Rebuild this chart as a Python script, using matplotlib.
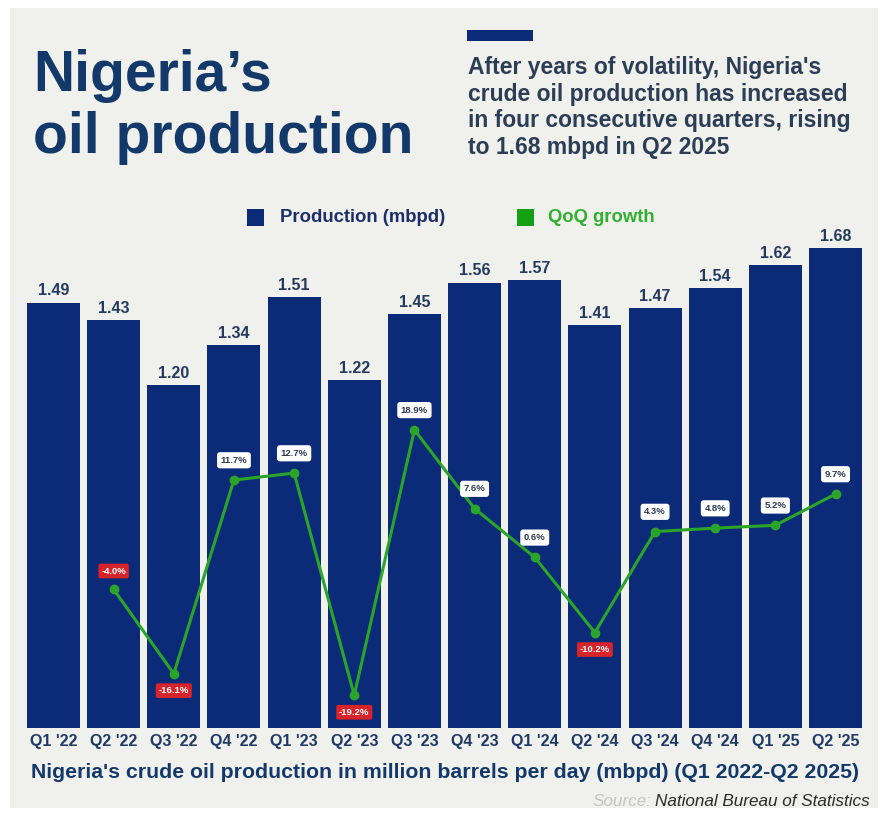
import matplotlib
matplotlib.use("Agg")
import matplotlib.pyplot as plt
from matplotlib.patches import Rectangle
import numpy as np

quarters = ["Q1 '22", "Q2 '22", "Q3 '22", "Q4 '22", "Q1 '23", "Q2 '23", "Q3 '23",
            "Q4 '23", "Q1 '24", "Q2 '24", "Q3 '24", "Q4 '24", "Q1 '25", "Q2 '25"]
production = [1.49, 1.43, 1.20, 1.34, 1.51, 1.22, 1.45, 1.56, 1.57, 1.41, 1.47, 1.54, 1.62, 1.68]
growth = [None, -4.0, -16.1, 11.7, 12.7, -19.2, 18.9, 7.6, 0.6, -10.2, 4.3, 4.8, 5.2, 9.7]

NAVY = "#0b2a78"
TITLE = "#13396a"
GREEN = "#2aa52a"
RED = "#d7232a"
BG = "#f0f0ec"

W, H = 890, 814
fig = plt.figure(figsize=(W / 100, H / 100), dpi=100, facecolor="white")
fig.patches.append(Rectangle((10 / W, 1 - 808 / H), 868 / W, 800 / H,
                             transform=fig.transFigure, facecolor=BG, edgecolor="none", zorder=-10))

def fx(px):
    return px / W

def fy(py):
    return 1 - py / H

sans = ["Liberation Sans", "DejaVu Sans"]

# Title
fig.text(fx(33), fy(153), "Nigeria\u2019s\noil production", fontsize=41, fontweight="bold",
         color=TITLE, family=sans, ha="left", va="baseline", linespacing=1.2)

# Subtitle bar and text
fig.patches.append(Rectangle((fx(467), fy(41)), 66 / W, 11 / H, transform=fig.transFigure,
                             facecolor=NAVY, edgecolor="none"))
fig.text(fx(468), fy(154), "After years of volatility, Nigeria's\ncrude oil production has increased\n"
         "in four consecutive quarters, rising\nto 1.68 mbpd in Q2 2025",
         fontsize=16.5, fontweight="bold", color="#2c3e55", family=sans, ha="left",
         va="baseline", linespacing=1.2)

# Legend
fig.patches.append(Rectangle((fx(247), fy(226)), 17 / W, 17 / H, transform=fig.transFigure,
                             facecolor=NAVY, edgecolor="none"))
fig.text(fx(280), fy(217), "Production (mbpd)", fontsize=13.3, fontweight="bold", color="#1d2f6a",
         family=sans, ha="left", va="center")
fig.patches.append(Rectangle((fx(517), fy(226)), 17 / W, 17 / H, transform=fig.transFigure,
                             facecolor="#14a014", edgecolor="none"))
fig.text(fx(548), fy(217), "QoQ growth", fontsize=13.3, fontweight="bold", color="#30b030",
         family=sans, ha="left", va="center")

# Main axes
ax = fig.add_axes([fx(27), fy(728), fx(862) - fx(27), (728 - 230) / H])
ax.set_facecolor("none")
x = np.arange(len(quarters))
ax.bar(x, production, width=0.88, color=NAVY, zorder=2)
ax.set_xlim(-0.44, len(quarters) - 0.56)
ax.set_ylim(0, (728 - 230) / 285.5)
for xi, v in zip(x, production):
    ax.annotate(f"{v:.2f}", (xi, v), xytext=(0, 3), textcoords="offset points",
                ha="center", va="bottom", fontsize=11.5, fontweight="bold", color="#243a5e",
                family=sans)
ax.set_xticks(x)
ax.set_xticklabels(quarters, fontsize=11.5, fontweight="bold", color="#1f3a66", family=sans)
ax.tick_params(axis="x", length=0, pad=4)
ax.set_yticks([])
for s in ax.spines.values():
    s.set_visible(False)

# Growth axis
ax2 = ax.twinx()
ax2.set_ylim(-23.9, 47.6)
ax2.set_yticks([])
for s in ax2.spines.values():
    s.set_visible(False)
gx = [xi for xi, g in zip(x, growth) if g is not None]
gv = [g for g in growth if g is not None]
ax2.plot(gx, gv, color=GREEN, lw=2.2, marker="o", ms=6, zorder=3)
for xi, g in zip(gx, gv):
    if g < -5:
        ax2.annotate(f"{g:.1f}%", (xi, g), xytext=(0, -9), textcoords="offset points",
                     ha="center", va="top", fontsize=6.8, fontweight="bold", color="white",
                     family=sans,
                     bbox=dict(boxstyle="round,pad=0.3,rounding_size=0.2", fc=RED, ec="none"))
    elif g < 0:
        ax2.annotate(f"{g:.1f}%", (xi, g), xytext=(0, 10), textcoords="offset points",
                     ha="center", va="bottom", fontsize=6.8, fontweight="bold", color="white",
                     family=sans,
                     bbox=dict(boxstyle="round,pad=0.3,rounding_size=0.2", fc=RED, ec="none"))
    else:
        ax2.annotate(f"{g:.1f}%", (xi, g), xytext=(0, 11), textcoords="offset points",
                     ha="center", va="bottom", fontsize=6.8, fontweight="bold", color="#2c3a50",
                     family=sans,
                     bbox=dict(boxstyle="round,pad=0.38,rounding_size=0.3", fc="white", ec="none"))

# Bottom caption
fig.text(fx(445), fy(773), "Nigeria's crude oil production in million barrels per day (mbpd) (Q1 2022-Q2 2025)",
         fontsize=15.3, fontweight="bold", color=TITLE, family=sans, ha="center", va="center")
src = fig.text(fx(870), fy(801), "National Bureau of Statistics", fontsize=12.3, style="italic",
               color="#2a2a2a", family=sans, ha="right", va="center")
fig.canvas.draw()
bb = src.get_window_extent()
fig.text((bb.x0 - 4) / W, fy(801), "Source:", fontsize=12.3, style="italic",
         color="#c4c4c4", family=sans, ha="right", va="center")

fig.savefig("out.png", dpi=100, facecolor=fig.get_facecolor())
